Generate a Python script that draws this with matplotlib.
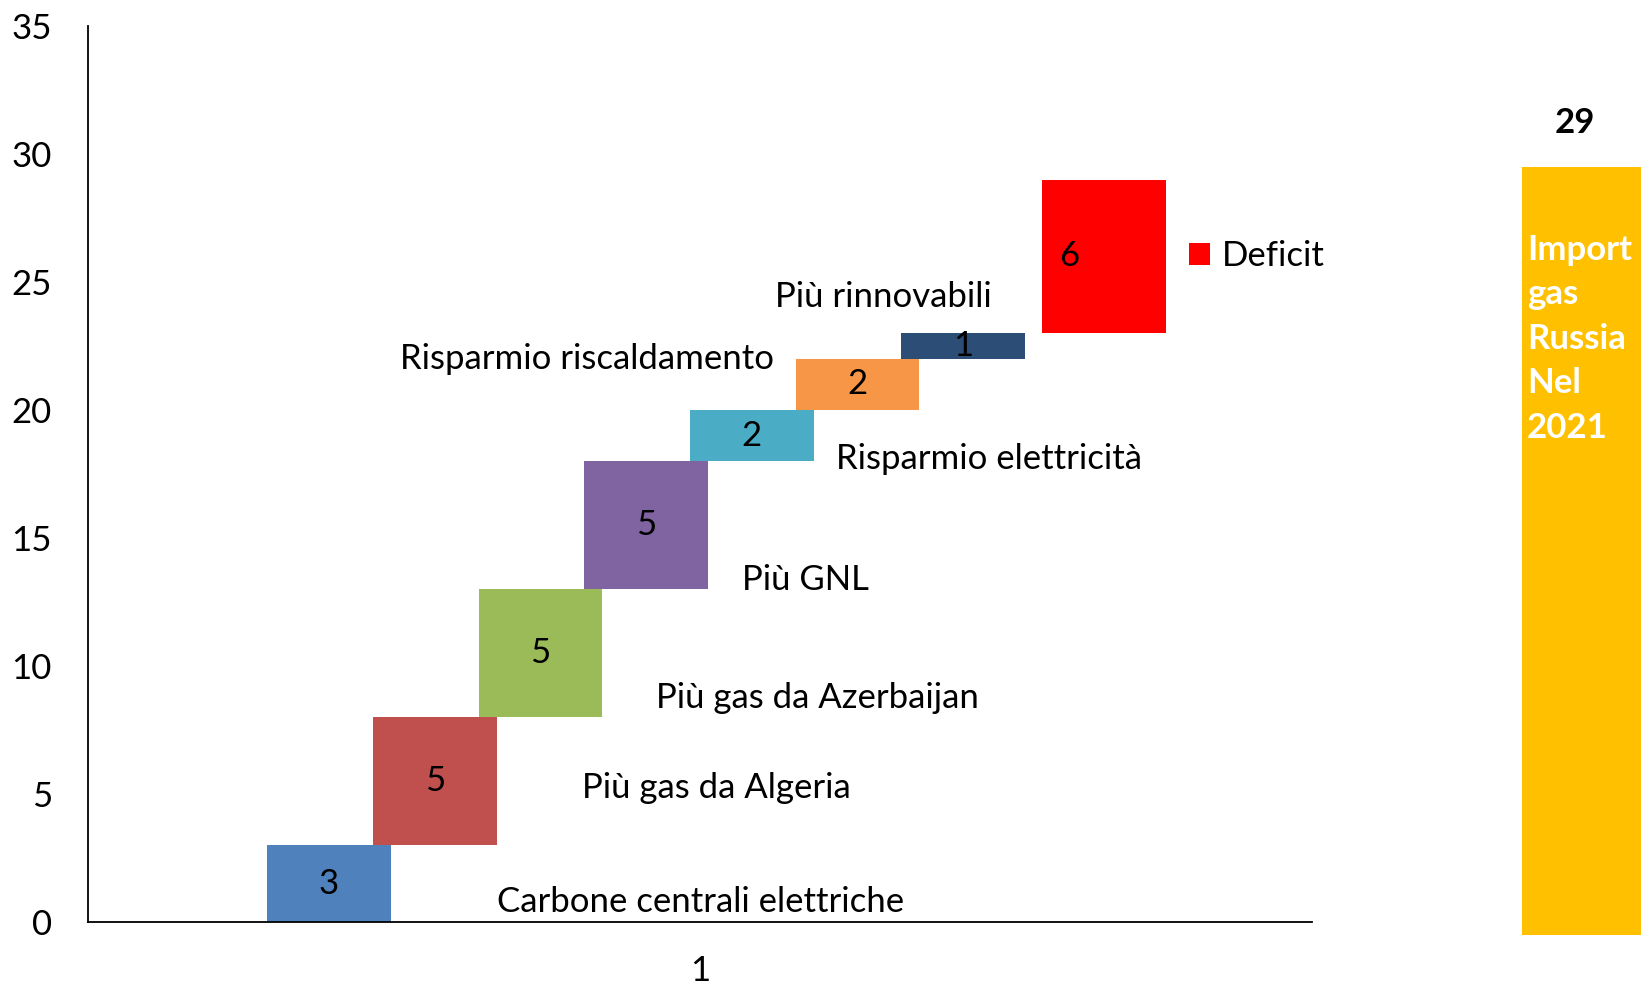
import numpy as np
import matplotlib
matplotlib.use("Agg")
import matplotlib.pyplot as plt

plt.rcParams['font.family'] = ['Lato', 'DejaVu Sans']

# data
steps = ["Carbone centrali elettriche", "Più gas da Algeria", "Più gas da Azerbaijan",
         "Più GNL", "Risparmio elettricità", "Risparmio riscaldamento", "Più rinnovabili"]
step_values = [3, 5, 5, 5, 2, 2, 1]
step_colors = ["#4F81BD", "#C0504D", "#9BBB59", "#8064A2", "#4BACC6", "#F79646", "#2C4D75"]
deficit_value = 6
russia_total = 29
russia_label = "Import\ngas\nRussia\nNel\n2021"
y_ticks = [0, 5, 10, 15, 20, 25, 30, 35]

# layout (x in category steps)
x0 = 2.28
bar_w = 1.17
deficit_shift = 0.33
lab_x = [3.87, 4.67, 5.37, 6.19, 7.08, 6.49, 6.50]
lab_y = [0.8, 5.23, 8.75, 13.37, 18.1, 22.0, 24.4]
lab_ha = ["left", "left", "left", "left", "left", "right", "left"]
FS = 25

fig = plt.figure(figsize=(16.41, 9.85), dpi=100)
ax = fig.add_axes([88 / 1641, 1 - 922 / 985, (1312 - 88) / 1641, (922 - 26) / 985])

bottoms = np.concatenate([[0], np.cumsum(step_values)[:-1]])
xs = x0 + np.arange(len(step_values))
ax.bar(xs, step_values, bottom=bottoms, width=bar_w, color=step_colors, zorder=2)
for x, b, v in zip(xs, bottoms, step_values):
    ax.text(x, b + v / 2, str(v), ha="center", va="center", fontsize=FS, zorder=3)

dx = xs[-1] + 1
d_bottom = bottoms[-1] + step_values[-1]
ax.bar(dx + deficit_shift, deficit_value, bottom=d_bottom, width=bar_w, color="#FF0000",
       zorder=2, label="Deficit")
ax.text(dx, d_bottom + deficit_value / 2, str(deficit_value), ha="center", va="center",
        fontsize=FS, zorder=3)

for name, lx, ly, ha in zip(steps, lab_x, lab_y, lab_ha):
    ax.text(lx, ly, name, ha=ha, va="center", fontsize=FS)

leg = ax.legend(loc="center left", bbox_to_anchor=(10.42 / 11.58, 26.0 / 35), frameon=False,
                fontsize=FS, handlelength=0.6, handleheight=0.6, handletextpad=0.35,
                borderpad=0, borderaxespad=0)

ax.set_xlim(0, 11.58)
ax.set_ylim(0, 35)
ax.set_yticks(y_ticks)
ax.set_xticks([11.58 / 2])
ax.set_xticklabels(["1"])
ax.tick_params(axis="both", length=0, labelsize=FS)
ax.tick_params(axis="y", pad=26)
ax.tick_params(axis="x", pad=24)
ax.spines["top"].set_visible(False)
ax.spines["right"].set_visible(False)
ax.spines["left"].set_linewidth(1.3)
ax.spines["bottom"].set_linewidth(1.3)

# Russia import bar
ax2 = fig.add_axes([1522 / 1641, 1 - 935 / 985, (1641 - 1522) / 1641, (935 - 167) / 985])
ax2.bar([0], [russia_total], width=1.0, color="#FFC000")
ax2.set_xlim(-0.5, 0.5)
ax2.set_ylim(0, russia_total)
ax2.axis("off")
ax2.annotate(str(russia_total), xy=(-0.055, russia_total), xytext=(0, 20),
             textcoords="offset points", ha="center", va="bottom",
             fontsize=FS, fontweight="bold", annotation_clip=False)
ax2.text(0.04, 0.913, russia_label, transform=ax2.transAxes, ha="left", va="top",
         color="white", fontsize=FS, fontweight="bold", linespacing=1.48)

fig.savefig("out.png", dpi=100)
